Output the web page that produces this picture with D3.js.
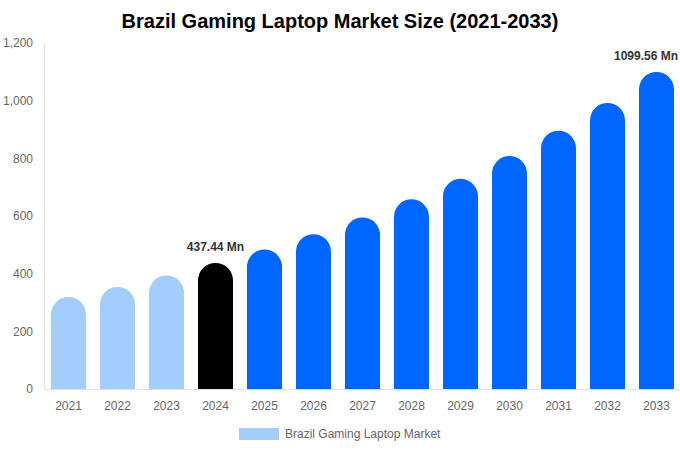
<!DOCTYPE html>
<html>
<head>
<meta charset="utf-8">
<script src="https://cdn.jsdelivr.net/npm/d3@7"></script>
<style>
  body { margin: 0; background: #fff; }
  svg { font-family: "Liberation Sans", Arial, sans-serif; }
</style>
</head>
<body>
<svg id="chart" width="680" height="450"></svg>
<script>
const years = ["2021", "2022", "2023", "2024", "2025", "2026", "2027", "2028", "2029", "2030", "2031", "2032", "2033"];
const values = [319, 354, 394, 437.44, 484, 537, 595, 658, 729, 808, 896, 992, 1099.56];
const yTicks = [0, 200, 400, 600, 800, 1000, 1200];
const labelled = {"2024": "437.44 Mn", "2033": "1099.56 Mn"};
const legendLabel = "Brazil Gaming Laptop Market";

const width = 680, height = 450;
const margin = {top: 43, right: -1, bottom: 61, left: 44};

const svg = d3.select("#chart");

const x = d3.scaleBand()
    .domain(years)
    .range([margin.left, width - margin.right])
    .paddingInner(0.286)
    .paddingOuter(0.143);

const y = d3.scaleLinear()
    .domain([0, 1200])
    .range([height - margin.bottom, margin.top]);

function barColor(yr) {
    if (+yr < 2024) return "#a3cdfd";
    if (+yr === 2024) return "#000000";
    return "#0066ff";
}

// title
svg.append("text")
    .attr("x", 340)
    .attr("y", 28)
    .attr("text-anchor", "middle")
    .attr("font-size", 20)
    .attr("font-weight", "bold")
    .attr("fill", "#000")
    .text("Brazil Gaming Laptop Market Size (2021-2033)");

// y axis
svg.append("g")
    .attr("transform", `translate(${margin.left},0)`)
    .call(d3.axisLeft(y).tickValues(yTicks).tickSize(0).tickPadding(11).tickFormat(d3.format(",")))
    .call(g => g.select(".domain").attr("stroke", "#e0e0e0"))
    .call(g => g.selectAll(".tick text").attr("fill", "#666").attr("font-size", 12));

// x axis
svg.append("g")
    .attr("transform", `translate(0,${y(0)})`)
    .call(d3.axisBottom(x).tickSize(0).tickPadding(12))
    .call(g => g.select(".domain").attr("stroke", "#e0e0e0"))
    .call(g => g.selectAll(".tick text").attr("fill", "#666").attr("font-size", 12));

// rounded top bars
const bw = x.bandwidth();
const r = bw / 2;
function barPath(yr, v) {
    const x0 = x(yr), x1 = x0 + bw, yb = y(0), yt = y(v);
    return `M${x0},${yb} L${x0},${yt + r} A${r},${r} 0 0 1 ${x1},${yt + r} L${x1},${yb} Z`;
}

svg.append("g")
    .selectAll("path")
    .data(years)
    .join("path")
    .attr("d", (d, i) => barPath(d, values[i]))
    .attr("fill", d => barColor(d));

// value labels (kept inside the picture at the right edge)
svg.append("g")
    .selectAll("text")
    .data(years.filter(d => labelled[d]))
    .join("text")
    .attr("x", d => x(d) + bw / 2)
    .attr("y", d => y(values[years.indexOf(d)]) - 12)
    .attr("text-anchor", "middle")
    .attr("font-size", 12)
    .attr("font-weight", "bold")
    .attr("fill", "#333")
    .text(d => labelled[d])
    .each(function () {
        const b = this.getBBox();
        if (b.x + b.width > width - 2) {
            d3.select(this).attr("x", +d3.select(this).attr("x") - (b.x + b.width - (width - 2)));
        }
    });

// legend
const legend = svg.append("g").attr("transform", "translate(239,428)");
legend.append("rect")
    .attr("width", 40)
    .attr("height", 12)
    .attr("fill", "#a3cdfd");
legend.append("text")
    .attr("x", 46)
    .attr("y", 10)
    .attr("font-size", 12)
    .attr("fill", "#666")
    .text(legendLabel);
</script>
</body>
</html>
